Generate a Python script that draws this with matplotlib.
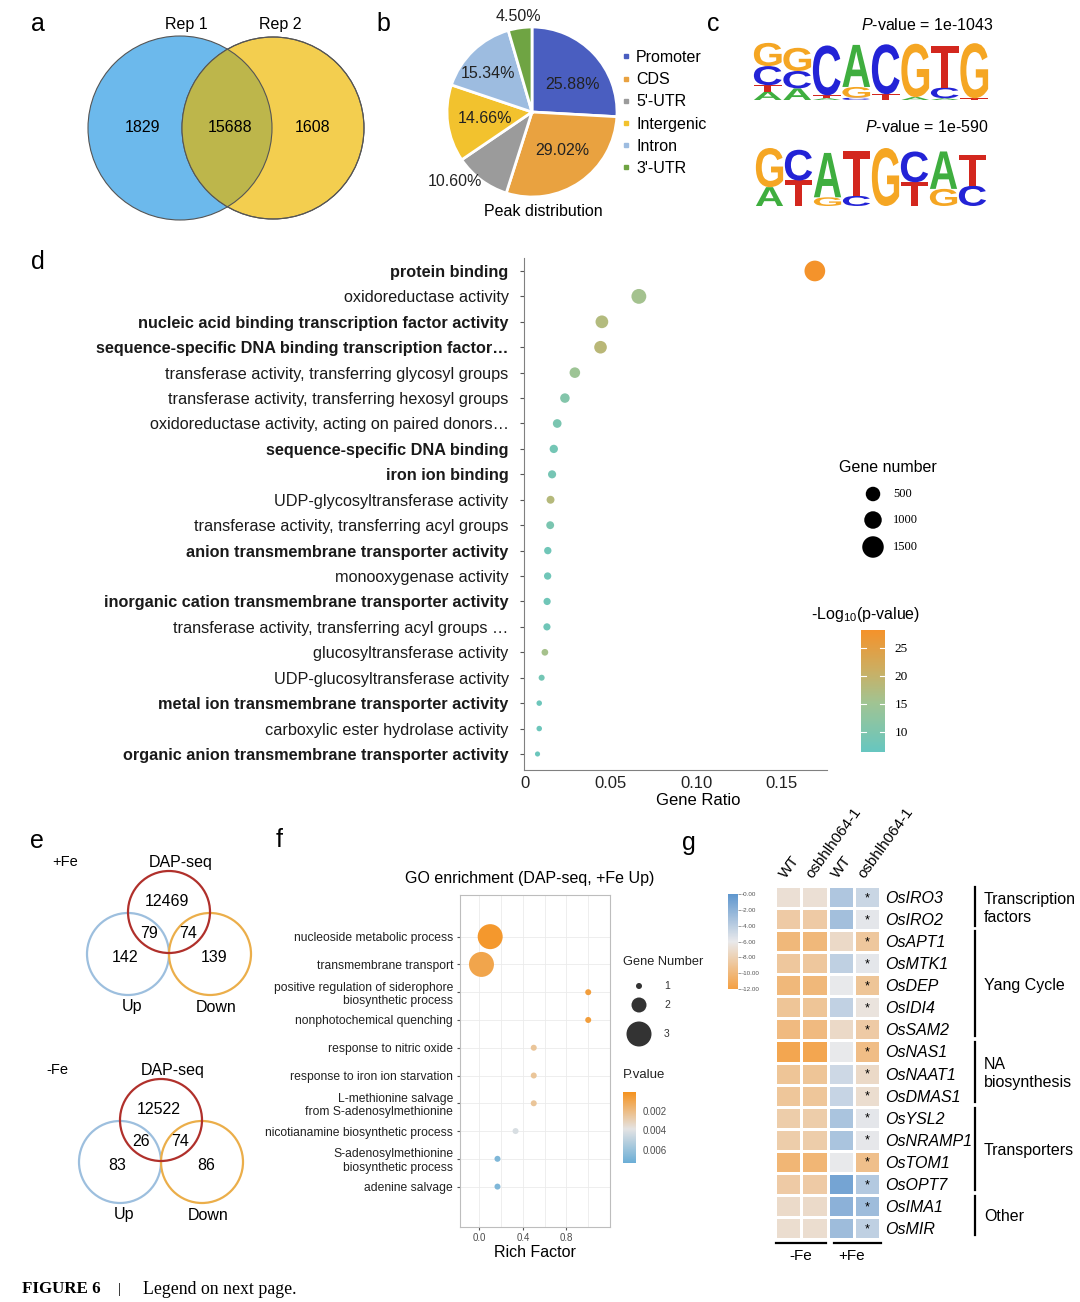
import numpy as np
import matplotlib
matplotlib.use('Agg')
import matplotlib.pyplot as plt
from matplotlib.patches import Circle, PathPatch
from matplotlib.colors import LinearSegmentedColormap, Normalize
from matplotlib.cm import ScalarMappable
from matplotlib.lines import Line2D
from matplotlib.textpath import TextPath
from matplotlib.font_manager import FontProperties
from matplotlib.transforms import Affine2D, blended_transform_factory

plt.rcParams['font.family'] = ['Liberation Sans', 'DejaVu Sans']
plt.rcParams['mathtext.fontset'] = 'custom'
plt.rcParams['mathtext.rm'] = 'Liberation Sans'
plt.rcParams['mathtext.it'] = 'Liberation Sans:italic'

W, H = 1080, 1302

# ---- data ----
# a
venn_reps = ['Rep 1', 'Rep 2']
venn_counts = [1829, 15688, 1608]

# b
peak_types = ['Promoter', 'CDS', "5'-UTR", 'Intergenic', 'Intron', "3'-UTR"]
peak_pct = [25.88, 29.02, 10.60, 14.66, 15.34, 4.50]
peak_colors = ['#4A5EC0', '#E9A240', '#9B9B9B', '#F2C22E', '#9DBCE0', '#6FA443']

# c  (letter stacks bottom -> top, heights in bits)
motif_pvals = ['1e-1043', '1e-590']
motif1 = [
    [('A', 0.29), ('T', 0.22), ('C', 0.66), ('G', 0.80)],
    [('A', 0.40), ('C', 0.60), ('G', 0.80)],
    [('A', 0.06), ('T', 0.10), ('C', 1.72)],
    [('C', 0.08), ('G', 0.37), ('A', 1.45)],
    [('T', 0.20), ('C', 1.72)],
    [('A', 0.10), ('G', 1.84)],
    [('A', 0.06), ('C', 0.37), ('T', 1.44)],
    [('T', 0.06), ('G', 1.90)],
]
motif2 = [
    [('A', 0.65), ('G', 1.35)],
    [('T', 0.88), ('C', 1.06)],
    [('G', 0.30), ('A', 1.53)],
    [('C', 0.35), ('T', 1.53)],
    [('G', 2.00)],
    [('T', 0.82), ('C', 1.06)],
    [('G', 0.59), ('A', 1.29)],
    [('C', 0.70), ('T', 1.06)],
]
logo_colors = {'A': '#3FAE3F', 'C': '#2323D6', 'G': '#F5A623', 'T': '#D3271E'}

# d
go_terms = ['protein binding', 'oxidoreductase activity',
            'nucleic acid binding transcription factor activity',
            'sequence-specific DNA binding transcription factor…',
            'transferase activity, transferring glycosyl groups',
            'transferase activity, transferring hexosyl groups',
            'oxidoreductase activity, acting on paired donors…',
            'sequence-specific DNA binding', 'iron ion binding',
            'UDP-glycosyltransferase activity',
            'transferase activity, transferring acyl groups',
            'anion transmembrane transporter activity',
            'monooxygenase activity',
            'inorganic cation transmembrane transporter activity',
            'transferase activity, transferring acyl groups …',
            'glucosyltransferase activity',
            'UDP-glucosyltransferase activity',
            'metal ion transmembrane transporter activity',
            'carboxylic ester hydrolase activity',
            'organic anion transmembrane transporter activity']
go_bold = [True, False, True, True, False, False, False, True, True, False,
           False, True, False, True, False, False, False, True, False, True]
go_ratio = [0.1694, 0.0666, 0.0450, 0.0442, 0.0292, 0.0234, 0.0189, 0.0169,
            0.0159, 0.0150, 0.0148, 0.0134, 0.0133, 0.0130, 0.0129, 0.0117,
            0.0098, 0.0084, 0.0084, 0.0074]
go_count = [1400, 560, 385, 378, 250, 200, 162, 145, 136, 128, 127, 115,
            114, 112, 111, 100, 84, 72, 72, 63]
go_logp = [28.0, 15.6, 17.7, 18.5, 14.7, 10.8, 9.5, 8.5, 8.8, 18.0, 9.5,
           8.0, 8.0, 8.0, 8.0, 16.0, 8.5, 7.5, 7.5, 7.2]

# e
e_sets = ['DAP-seq', 'Up', 'Down']
fe_plus = [12469, 79, 74, 142, 139]
fe_minus = [12522, 26, 74, 83, 86]

# f
f_terms = ['nucleoside metabolic process', 'transmembrane transport',
           'positive regulation of siderophore\nbiosynthetic process',
           'nonphotochemical quenching', 'response to nitric oxide',
           'response to iron ion starvation',
           'L-methionine salvage\nfrom S-adenosylmethionine',
           'nicotianamine biosynthetic process',
           'S-adenosylmethionine\nbiosynthetic process', 'adenine salvage']
f_rich = [0.10, 0.02, 1.0, 1.0, 0.5, 0.5, 0.5, 0.333, 0.167, 0.167]
f_count = [3, 3, 1, 1, 1, 1, 1, 1, 1, 1]
f_pval = [0.0003, 0.0009, 0.0006, 0.0006, 0.0024, 0.0024, 0.0024,
          0.0042, 0.0068, 0.0068]

# g
g_cols = ['WT', 'osbhlh064-1', 'WT', 'osbhlh064-1']
g_genes = ['OsIRO3', 'OsIRO2', 'OsAPT1', 'OsMTK1', 'OsDEP', 'OsIDI4',
           'OsSAM2', 'OsNAS1', 'OsNAAT1', 'OsDMAS1', 'OsYSL2', 'OsNRAMP1',
           'OsTOM1', 'OsOPT7', 'OsIMA1', 'OsMIR']
g_vals = [[-6.8, -6.8, -3.5, -4.6],
          [-8.5, -8.5, -3.0, -5.8],
          [-10.0, -10.0, -7.3, -8.8],
          [-8.8, -8.8, -4.2, -5.8],
          [-10.0, -10.0, -6.0, -9.0],
          [-9.0, -9.0, -4.3, -6.5],
          [-9.8, -9.8, -7.3, -8.5],
          [-11.5, -11.5, -6.0, -9.6],
          [-9.0, -9.0, -4.8, -7.3],
          [-8.9, -8.9, -4.5, -7.0],
          [-8.3, -8.3, -3.3, -5.8],
          [-8.3, -8.3, -3.3, -5.9],
          [-10.2, -10.2, -6.0, -9.4],
          [-8.5, -8.5, -1.0, -3.7],
          [-7.2, -7.2, -2.0, -2.8],
          [-7.0, -7.0, -2.8, -4.2]]
g_sig = [True] * 16
g_groups = [('Transcription\nfactors', 0, 1), ('Yang Cycle', 2, 6),
            ('NA\nbiosynthesis', 7, 9), ('Transporters', 10, 13),
            ('Other', 14, 15)]
g_conditions = ['-Fe', '+Fe']


def box(x0, y0, x1, y1):
    return [x0 / W, 1 - y1 / H, (x1 - x0) / W, (y1 - y0) / H]


fig = plt.figure(figsize=(W / 100, H / 100), dpi=100)
bg = fig.add_axes([0, 0, 1, 1])
bg.set_xlim(0, W)
bg.set_ylim(H, 0)
bg.axis('off')

for letter, (x, y) in zip('abcdefg', [(38, 24), (383, 24), (713, 24), (38, 262),
                                      (37, 841), (279, 840), (689, 843)]):
    bg.text(x, y, letter, fontsize=18, ha='center', va='center')

# ---- a: two-set venn ----
ec = '#555555'
cl = Circle((180, 128), 92, fc='#6CB9EC', ec=ec, lw=0.8)
cr = Circle((273, 128), 91, fc='#F3CE4F', ec=ec, lw=0.8)
bg.add_patch(cl)
bg.add_patch(cr)
co = Circle((180, 128), 92, fc='#BDB64B', ec=ec, lw=0.8)
bg.add_patch(co)
co.set_clip_path(cr)
bg.add_patch(Circle((273, 128), 91, fill=False, ec=ec, lw=0.8))
for (x, y), v in zip([(143, 128), (230, 128), (313, 128)], venn_counts):
    bg.text(x, y, str(v), fontsize=11.5, ha='center', va='center')
bg.text(186, 25, venn_reps[0], fontsize=11.5, ha='center', va='center')
bg.text(280, 25, venn_reps[1], fontsize=11.5, ha='center', va='center')

# ---- b: pie ----
axb = fig.add_axes(box(447, 27, 617, 197))
wedges, _ = axb.pie(peak_pct, colors=peak_colors, startangle=90, counterclock=False,
                    wedgeprops=dict(edgecolor='white', linewidth=2))
axb.set_xlim(-1, 1)
axb.set_ylim(-1, 1)
axb.set_aspect('equal')
label_r = [0.58, 0.58, 1.22, 0.56, 0.69, 1.13]
label_shift = [-9, 4, -11, 0, 5, 0]
cum = np.cumsum([0] + peak_pct[:-1])
for p, c0, r, sh in zip(peak_pct, cum, label_r, label_shift):
    ang = np.deg2rad(90 - (c0 + p / 2) * 3.6 + sh)
    axb.text(r * np.cos(ang), r * np.sin(ang), f'{p:.2f}%', ha='center', va='center',
             fontsize=11.5, color='#222222')
handles = [Line2D([], [], marker='s', ls='', mfc=c, mec=c, ms=3.5) for c in peak_colors]
axb.legend(handles, peak_types, loc='upper left', bbox_to_anchor=(621 / W, 1 - 50 / H),
           bbox_transform=fig.transFigure, frameon=False, fontsize=11.5,
           handlelength=0.6, handletextpad=0.35, labelspacing=0.45, borderpad=0,
           borderaxespad=0)
bg.text(543, 211, 'Peak distribution', fontsize=11.5, ha='center', va='center')

# ---- c: motif logos ----
fp_logo = FontProperties(family='Liberation Sans', weight='bold')


def draw_letter(ax, ch, x, y, w, h, color):
    tp = TextPath((0, 0), ch, size=1, prop=fp_logo)
    bb = tp.get_extents()
    t = Affine2D().translate(-bb.x0, -bb.y0).scale(w / bb.width, h / bb.height).translate(x, y)
    ax.add_patch(PathPatch(t.transform_path(tp), fc=color, ec='none'))


for motif, pv, bx, ty in [(motif1, motif_pvals[0], (753, 42, 989, 100), 25),
                          (motif2, motif_pvals[1], (755, 148, 987, 206), 127)]:
    axl = fig.add_axes(box(*bx))
    axl.set_xlim(0, len(motif))
    axl.set_ylim(0, 2)
    axl.axis('off')
    for i, stack in enumerate(motif):
        y0 = 0
        for ch, h in stack:
            draw_letter(axl, ch, i + 0.03, y0, 0.94, h, logo_colors[ch])
            y0 += h
    bg.text(927, ty, r'$\mathit{P}$-value = ' + pv, fontsize=11.5, ha='center', va='center')

# ---- d: GO dot plot ----
cmap_d = LinearSegmentedColormap.from_list(
    'd', [(0, '#66C6C0'), (0.4, '#A0C493'), (0.65, '#C8B066'), (1, '#F5922A')])
norm_d = Normalize(6.4, 28.2)


def size_d(n):
    d = np.interp(n, [60, 130, 260, 500, 1000, 1500], [5.0, 8.0, 10.8, 14.5, 17.5, 21.5])
    return (d * 0.72) ** 2


axd = fig.add_axes(box(524, 258, 827, 770))
axd.set_facecolor('none')
yd = np.arange(len(go_terms))
axd.scatter(go_ratio, yd, s=size_d(go_count), c=go_logp, cmap=cmap_d, norm=norm_d,
            edgecolors='none', zorder=3)
axd.set_ylim(len(go_terms) - 1 + 0.63, -0.51)
axd.set_xlim(-0.0005, 0.1765)
axd.set_xticks([0, 0.05, 0.10, 0.15])
axd.set_xticklabels(['0', '0.05', '0.10', '0.15'])
axd.set_yticks(yd)
axd.set_yticklabels(go_terms, fontsize=11.7, color='#1A1A1A')
for lbl, b in zip(axd.get_yticklabels(), go_bold):
    lbl.set_fontweight('bold' if b else 'normal')
for s in ['top', 'right']:
    axd.spines[s].set_visible(False)
for s in ['left', 'bottom']:
    axd.spines[s].set_color('#808080')
axd.tick_params(axis='y', length=3, color='#555555', pad=8)
axd.tick_params(axis='x', length=0, labelsize=12, labelcolor='#222222', pad=4)
axd.set_xlabel('Gene Ratio', fontsize=12)
axd.xaxis.set_label_coords((698 - 524) / 303, -0.045)

bg.text(888, 467, 'Gene number', fontsize=11.5, ha='center', va='center')
leg_n = [500, 1000, 1500]
bg.scatter([873] * 3, [494, 520, 547], s=size_d(leg_n), c='black', edgecolors='none')
for v, y in zip(leg_n, [494, 520, 547]):
    bg.text(893, y, str(v), fontsize=9, family='Liberation Serif', va='center')
cax = fig.add_axes(box(861, 630, 885, 752))
cb = fig.colorbar(ScalarMappable(norm_d, cmap_d), cax=cax, ticks=[10, 15, 20, 25])
cb.outline.set_visible(False)
cax.tick_params(length=0, labelsize=9.5, pad=7)
for t in cax.get_yticklabels():
    t.set_family('Liberation Serif')
for t in [10, 15, 20, 25]:
    cax.plot([0, 0.2], [t, t], color='white', lw=0.8)
    cax.plot([0.8, 1], [t, t], color='white', lw=0.8)
fig.text(866 / W, 1 - 615 / H, '-Log$_{10}$(p-value)', fontsize=11.5, ha='center',
         va='center', zorder=10)

# ---- e: three-set venns ----
def venn3(x0, y0, cond, counts):
    r = 41
    bg.add_patch(Circle((x0 - 41, y0), r, fill=False, ec='#9DBFDE', lw=1.6))
    bg.add_patch(Circle((x0 + 41, y0), r, fill=False, ec='#EBAE4A', lw=1.6))
    bg.add_patch(Circle((x0, y0 - 42), r, fill=False, ec='#B0302B', lw=1.6))
    offs = [(-2, -53), (-20, -21), (19, -21), (-44, 4), (45, 4)]
    for (dx, dy), v in zip(offs, counts):
        bg.text(x0 + dx, y0 + dy, str(v), fontsize=11.5, ha='center', va='center')
    bg.text(x0 + 12, y0 - 91, e_sets[0], fontsize=11.5, ha='center', va='center')
    bg.text(x0 - 37, y0 + 53, e_sets[1], fontsize=11.5, ha='center', va='center')
    bg.text(x0 + 47, y0 + 53, e_sets[2], fontsize=11.5, ha='center', va='center')
    bg.text(x0 - 104, y0 - 92, cond, fontsize=10.5, ha='center', va='center')


venn3(169, 954, '+Fe', fe_plus)
venn3(161, 1162, '-Fe', fe_minus)

# ---- f: GO enrichment bubble ----
cmap_f = LinearSegmentedColormap.from_list(
    'f', [(0, '#F5921E'), (0.52, '#E4E3E3'), (1, '#6BAED6')])
norm_f = Normalize(0, 0.0074)


def size_f(n):
    d = np.interp(n, [1, 2, 3], [6, 15, 25])
    return (d * 0.72) ** 2


axf = fig.add_axes(box(460, 895, 610, 1227))
yf = np.arange(len(f_terms))[::-1]
axf.scatter(f_rich, yf, s=size_f(f_count), c=f_pval, cmap=cmap_f, norm=norm_f,
            edgecolors='none', zorder=3)
axf.set_xlim(-0.177, 1.2)
axf.set_ylim(-1.455, 10.5)
axf.set_xticks([0, 0.4, 0.8])
axf.set_xticklabels(['0.0', '0.4', '0.8'])
axf.set_xticks([0.2, 0.6, 1.0], minor=True)
axf.set_yticks(yf)
axf.set_yticklabels(f_terms, fontsize=8.7, color='#222222', linespacing=1.15)
axf.grid(True, which='both', color='#EBEBEB', lw=0.6)
axf.set_axisbelow(True)
for s in axf.spines.values():
    s.set_color('#BDBDBD')
axf.tick_params(axis='both', which='major', length=2, color='#555555')
axf.tick_params(axis='x', which='minor', length=0)
axf.tick_params(axis='x', labelsize=7, labelcolor='#4D4D4D', pad=2)
axf.tick_params(axis='y', pad=3)
axf.set_xlabel('Rich Factor', fontsize=11.5, labelpad=2)
bg.text(530, 878, 'GO enrichment (DAP-seq, +Fe Up)', fontsize=11.5, ha='center', va='center')

bg.text(623, 962, 'Gene Number', fontsize=9.2, va='center', color='#222222')
leg_f = [1, 2, 3]
bg.scatter([639] * 3, [986, 1005, 1034], s=size_f(leg_f), c='#333333', edgecolors='none')
for v, y in zip(leg_f, [986, 1005, 1034]):
    bg.text(664, y, str(v), fontsize=7.5, va='center', color='#333333')
bg.text(623, 1075, 'P.value', fontsize=9.5, va='center', color='#222222')
cax2 = fig.add_axes(box(623, 1092, 636, 1163))
cb2 = fig.colorbar(ScalarMappable(norm_f, cmap_f), cax=cax2, ticks=[0.002, 0.004, 0.006])
cb2.outline.set_visible(False)
cax2.invert_yaxis()
cax2.set_yticklabels(['0.002', '0.004', '0.006'])
cax2.tick_params(length=2, color='white', labelsize=7, labelcolor='#4D4D4D', pad=3)

# ---- g: heatmap ----
cmap_g = LinearSegmentedColormap.from_list(
    'g', [(0, '#F4A043'), (0.5, '#E9E9EB'), (1, '#5E96CE')])
axg = fig.add_axes(box(775, 886, 880, 1239))
vals = np.array(g_vals)
axg.pcolormesh(np.arange(5), np.arange(17), vals, cmap=cmap_g, vmin=-12, vmax=0,
               edgecolors='white', linewidth=0.8)
axg.set_xlim(0, 4)
axg.set_ylim(16, 0)
for i, sig in enumerate(g_sig):
    if sig:
        axg.text(3.5, i + 0.55, '*', ha='center', va='center', fontsize=9)
axg.yaxis.tick_right()
axg.set_yticks(np.arange(16) + 0.5)
axg.set_yticklabels(g_genes, fontsize=11.5, style='italic')
axg.xaxis.tick_top()
axg.set_xticks(np.arange(4) + 0.5)
axg.set_xticklabels(g_cols, rotation=54, ha='left', va='bottom',
                    rotation_mode='anchor', fontsize=11)
axg.tick_params(length=0, pad=4)
for s in axg.spines.values():
    s.set_visible(False)

tr = blended_transform_factory(axg.transAxes, axg.transData)
for name, a, b in g_groups:
    axg.plot([1.905, 1.905], [a + 0.05, b + 0.8], color='black', lw=1.6,
             transform=tr, clip_on=False)
    axg.text(1.99, (a + b + 1) / 2, name, transform=tr, fontsize=11.5, ha='left',
             va='center', linespacing=1.25)
for cond, (xa, xb), xt in zip(g_conditions, [(0.05, 1.95), (2.25, 4.05)], [1.0, 2.9]):
    axg.plot([xa, xb], [16.2, 16.2], color='black', lw=1.6, clip_on=False)
    axg.text(xt, 16.75, cond, fontsize=11, ha='center', va='center')

cax3 = fig.add_axes(box(728, 894, 738, 989))
gt = np.arange(0, -13, -2)
cb3 = fig.colorbar(ScalarMappable(Normalize(-12, 0), cmap_g), cax=cax3, ticks=gt)
cb3.outline.set_visible(False)
cax3.set_yticklabels([f'-{abs(t):.2f}' for t in gt])
cax3.tick_params(length=2, width=0.5, color='#777777', labelsize=4.5,
                 labelcolor='#555555', pad=1)

# ---- footer ----
bg.text(22, 1289, 'FIGURE 6', family='Liberation Serif', weight='bold', fontsize=12.2,
        va='center')
bg.text(118, 1289, '|', family='Liberation Serif', fontsize=10.5, va='center')
bg.text(143, 1289, 'Legend on next page.', family='Liberation Serif', fontsize=12.8,
        va='center')

fig.savefig('out.png', dpi=100)
